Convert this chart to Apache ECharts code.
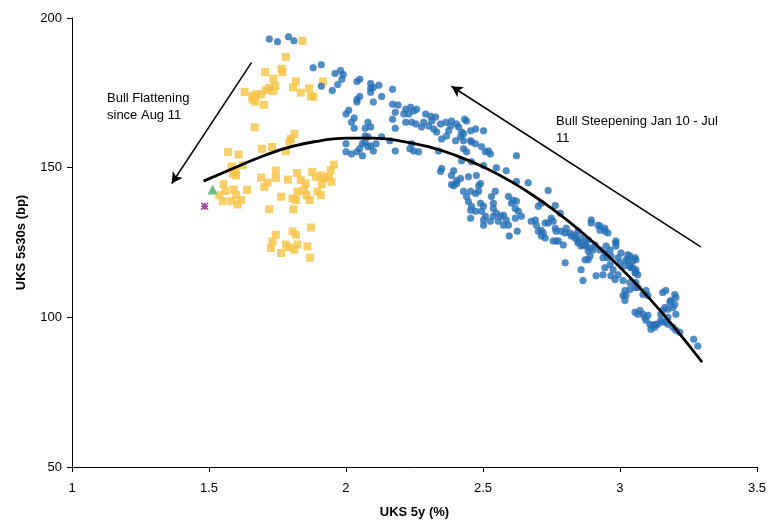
<!DOCTYPE html>
<html>
<head>
<meta charset="utf-8">
<script src="https://cdn.jsdelivr.net/npm/echarts@6/dist/echarts.min.js"></script>
<style>html,body{margin:0;padding:0;background:#fff}#c{width:769px;height:524px}</style>
</head>
<body>
<div id="c"></div>
<script>
// Bull steepening period Jan 10 - Jul 11 (x: UKS 5y %, y: 5s30s bp)
const steepening = [
[1.72,193.0],[1.75,192.1],[1.79,193.7],[1.81,192.4],[1.88,183.4],[1.91,184.4],[1.96,181.5],[1.98,182.5],[1.99,181.1],[1.985,179.5],
[1.97,177.8],[1.91,177.2],[1.95,175.8],[2.04,178.8],[2.05,179.5],[2.09,178.1],[2.12,177.5],[2.09,176.5],[2.09,175.2],[2.13,173.8],
[2.17,176.2],[2.05,173.8],[2.04,172.8],[2.04,171.9],[2.10,171.9],[2.17,171.2],[2.19,170.9],[2.01,169.2],[2.00,167.9],[2.03,166.6],
[2.02,165.2],[2.03,163.2],[2.08,165.2],[2.09,163.6],[2.07,163.2],[2.17,166.2],[2.18,168.5],[2.18,163.2],[2.10,176.8],
[2.218,169.5],[2.236,170.2],[2.247,168.9],[2.229,167.9],[2.211,167.9],[2.218,165.2],[2.24,165.2],[2.258,169.5],[2.291,167.9],[2.309,167.2],
[2.327,166.9],[2.284,165.2],[2.276,163.6],[2.302,163.9],[2.313,165.6],[2.32,162.9],[2.331,161.9],[2.345,164.6],[2.364,165.2],[2.382,163.9],
[2.375,162.3],[2.367,160.6],[2.349,159.6],[2.385,165.6],[2.411,163.6],[2.44,165.6],[2.422,161.9],[2.418,160.3],[2.473,162.9],[2.502,162.3],
[2.455,159.0],[2.473,158.0],[2.495,157.0],[2.509,155.3],[2.429,156.3],[2.44,155.3],[2.24,158.0],[2.247,155.6],[2.265,155.3],[2.338,155.6],
[2.52,155.6],[2.622,154.0],[2.433,166.2],[2.404,164.6],[2.429,161.3],[2.455,162.3],[2.40,159.0],[2.429,159.0],[2.458,158.6],[2.255,164.6],[2.527,154.6],
[2.00,158.0],[2.00,155.3],[2.02,154.6],[2.04,155.3],[2.06,154.0],[2.05,156.3],[2.08,157.0],[2.07,158.6],[2.06,158.0],[2.09,157.3],
[2.10,155.6],[2.11,158.0],[2.13,160.3],[2.08,160.3],[2.07,160.6],[2.16,159.0],[2.18,155.6],[2.233,156.3],
[2.422,152.3],[2.458,152.0],[2.502,150.7],[2.549,150.0],[2.585,149.0],[2.349,149.7],[2.345,148.7],[2.393,149.0],[2.385,147.4],[2.418,146.4],
[2.393,144.0],[2.447,147.0],[2.476,147.4],[2.484,144.0],[2.404,145.7],[2.385,144.4],[2.429,142.1],[2.44,140.4],[2.455,142.1],[2.473,141.4],
[2.484,142.1],[2.447,138.7],[2.458,137.1],[2.455,135.8],[2.473,135.4],[2.491,138.1],[2.502,137.1],[2.455,133.1],[2.502,132.5],[2.502,130.8],
[2.527,132.1],[2.538,133.8],[2.531,140.4],[2.545,142.1],[2.538,138.1],[2.538,136.4],[2.549,134.8],[2.564,133.8],[2.575,134.1],[2.585,132.5],
[2.575,130.8],[2.556,132.1],[2.593,130.8],[2.593,140.4],[2.611,139.1],[2.604,138.1],[2.622,138.8],[2.618,136.4],[2.629,135.4],[2.618,133.1],
[2.64,133.8],[2.622,145.4],[2.665,145.0],[2.596,127.2],[2.625,128.8],[2.495,135.4],[2.491,144.7],[2.509,133.8],[2.404,144.7],[2.738,142.4],
[2.764,137.4],[2.782,134.8],
[2.702,137.1],[2.713,138.1],[2.676,132.1],[2.691,132.5],[2.695,130.8],[2.702,128.8],[2.72,128.2],[2.713,127.2],[2.727,126.5],[2.738,131.5],
[2.756,132.1],[2.749,133.1],[2.764,129.8],[2.767,128.8],[2.775,125.5],[2.785,128.8],[2.80,128.2],[2.804,129.8],[2.793,124.2],[2.727,131.5],
[2.713,129.1],[2.818,128.2],[2.822,127.2],[2.836,126.5],[2.847,125.5],[2.858,123.8],[2.873,124.2],[2.884,122.2],[2.891,120.5],[2.873,119.2],
[2.884,119.2],[2.756,125.5],[2.767,125.5],[2.80,118.2],[2.858,115.9],[2.865,112.3],[2.913,113.9],[2.938,114.2],[2.836,127.5],[2.847,128.8],
[2.858,126.5],[2.873,125.5],[2.884,125.8],[2.847,124.8],[2.865,124.2],[2.876,123.8],[2.891,123.2],[2.902,122.5],[2.909,124.2],[2.895,131.5],
[2.92,130.8],[2.927,130.5],[2.945,128.8],[2.895,132.5],[2.927,129.1],[2.945,129.8],[2.956,128.2],[2.927,122.5],[2.949,123.8],[2.964,122.5],
[2.945,121.5],[2.967,120.5],[2.938,119.9],[2.985,124.8],[2.985,123.8],[2.985,125.5],[2.964,117.6],[2.975,115.9],[2.967,113.9],[2.982,112.6],
[2.993,114.2],[3.004,121.5],[3.022,119.2],[3.036,120.5],[3.047,118.9],[3.058,119.2],[3.018,117.2],[3.04,116.6],[3.055,114.9],[3.065,114.2],
[3.058,115.9],[3.029,120.9],[3.055,119.9],[2.993,119.9],[3.0,118.2],[3.029,118.9],[3.036,117.2],[3.047,116.6],[3.058,114.9],[2.956,119.9],
[2.945,116.6],[3.018,109.0],[3.022,107.3],[3.036,109.3],[3.055,110.0],[3.011,112.3],[3.036,111.6],[3.058,111.6],[3.065,110.0],[3.095,109.0],
[3.102,107.3],[3.011,107.3],[3.018,105.6],[3.084,107.6],[3.055,101.7],[3.073,102.3],[3.084,101.0],[3.091,100.0],[3.095,99.0],[3.109,97.7],
[3.113,96.0],[3.12,97.4],[3.131,97.7],[3.149,99.0],[3.167,98.4],[3.175,100.0],[3.065,101.0],[3.102,100.7],[3.127,96.7],[3.138,97.7],
[3.156,98.4],[3.175,97.7],[3.156,108.3],[3.167,109.0],[3.20,107.6],[3.204,106.6],[3.182,105.0],[3.164,103.3],[3.156,102.3],[3.149,101.0],
[3.175,102.7],[3.193,103.3],[3.204,101.0],[3.185,105.6],[3.20,104.3],[3.193,96.7],[3.204,95.7],[3.218,95.0],[3.269,92.7],[3.284,90.4]
];
// Bull flattening since Aug 11
const flattening = [
[1.841,192.4],[1.781,187.0],[1.765,183.0],[1.768,181.9],[1.705,181.9],[1.735,179.7],[1.817,178.8],[1.916,178.8],[1.807,176.8],[1.865,176.5],
[1.835,175.1],[1.872,173.9],[1.881,173.7],[1.630,175.3],[1.659,173.9],[1.672,174.5],[1.659,172.8],[1.669,172.0],[1.690,174.5],[1.708,175.9],
[1.720,176.7],[1.742,177.3],[1.735,175.6],[1.701,171.0],[1.667,163.5],[1.812,161.3],[1.799,159.6],[1.793,158.7],[1.693,156.3],[1.730,156.9],
[1.781,155.5],[1.570,155.2],[1.608,154.4],[1.583,150.4],[1.596,149.1],[1.599,147.4],[1.587,148.0],[1.623,150.8],[1.553,144.5],[1.560,142.2],
[1.538,140.8],[1.550,138.8],[1.590,142.7],[1.599,140.8],[1.581,138.8],[1.605,137.7],[1.617,139.2],[1.639,142.6],[1.690,146.7],[1.714,145.0],
[1.702,143.5],[1.744,149.0],[1.744,146.6],[1.821,148.2],[1.835,145.8],[1.853,144.7],[1.847,142.5],[1.823,142.0],[1.805,139.7],[1.817,139.2],
[1.763,140.3],[1.856,140.8],[1.868,139.2],[1.877,148.6],[1.890,146.9],[1.910,147.4],[1.920,146.4],[1.912,144.5],[1.896,142.0],[1.908,140.8],
[1.938,146.9],[1.947,145.3],[1.944,149.1],[1.956,151.0],[1.720,136.1],[1.808,136.1],[1.872,130.0],[1.805,128.7],[1.817,127.6],[1.744,127.6],
[1.732,125.4],[1.726,123.2],[1.763,121.5],[1.781,124.3],[1.793,123.4],[1.811,122.6],[1.823,124.3],[1.859,123.7],[1.869,119.9],[1.788,146.0]
];
const latest = [[1.513,142.7]];
const prior = [[1.484,137.1]];
// Quadratic trend line
const fitCurve = [
[1.48,145.5],[1.6,150.2],[1.7,154.0],[1.8,157.0],[1.9,158.9],[2.0,159.9],[2.1,159.9],[2.2,158.9],[2.3,157.0],[2.4,154.1],
[2.5,150.3],[2.6,145.5],[2.7,139.7],[2.8,133.0],[2.9,125.3],[3.0,116.7],[3.1,107.1],[3.2,96.5],[3.3,85.0]
];
const arrowFlat = [[1.655,185.1],[1.364,144.7]];
const arrowSteep = [[3.295,123.5],[2.385,177.2]];
const xTicks = {min:1, max:3.5, step:0.5};
const yTicks = {min:50, max:200, step:50};

const chart = echarts.init(document.getElementById('c'), null, {renderer:'canvas'});
const font = 'Liberation Sans, Arial, sans-serif';
chart.setOption({
  animation:false,
  backgroundColor:'#fff',
  grid:{left:72, right:10, top:18, bottom:53, containLabel:false},
  xAxis:{
    type:'value', min:xTicks.min, max:xTicks.max, interval:xTicks.step,
    name:'UKS 5y (%)', nameLocation:'middle', nameGap:39,
    nameTextStyle:{fontFamily:font, fontSize:13, fontWeight:'bold', color:'#000'},
    axisLine:{lineStyle:{color:'#000', width:1}},
    axisTick:{show:true, length:5, lineStyle:{color:'#000'}},
    axisLabel:{fontFamily:font, fontSize:13, color:'#000', margin:15},
    splitLine:{show:false}
  },
  yAxis:{
    type:'value', min:yTicks.min, max:yTicks.max, interval:yTicks.step,
    name:'UKS 5s30s (bp)', nameLocation:'middle', nameGap:44,
    nameTextStyle:{fontFamily:font, fontSize:13, fontWeight:'bold', color:'#000'},
    axisLine:{show:true, lineStyle:{color:'#000', width:1}},
    axisTick:{show:true, length:5, lineStyle:{color:'#000'}},
    axisLabel:{fontFamily:font, fontSize:13, color:'#000', margin:10},
    splitLine:{show:false}
  },
  series:[
    {type:'scatter', name:'Aug 11 -', data:flattening, symbol:'rect', symbolSize:8,
     itemStyle:{color:'#F5C242'}, z:2},
    {type:'scatter', name:'Jan 10 - Jul 11', data:steepening, symbol:'circle', symbolSize:7,
     itemStyle:{color:'#1A76B6', borderColor:'rgba(150,60,180,0.45)', borderWidth:0.5}, z:3},
    {type:'scatter', name:'prior', data:prior, symbol:'path://M0,0L10,10M10,0L0,10M5,0L5,10M0,5L10,5', symbolSize:7,
     itemStyle:{color:'none', borderColor:'#8E1B8E', borderWidth:1.6}, z:4},
    {type:'scatter', name:'latest', data:latest, symbol:'triangle', symbolSize:10,
     itemStyle:{color:'#4DAA6A'}, z:4},
    {type:'line', name:'fit', data:fitCurve, smooth:true, symbol:'none',
     lineStyle:{color:'#000', width:2.8}, z:5,
     markLine:{silent:true, symbol:['none','arrow'], symbolSize:[9,11],
       label:{show:false},
       lineStyle:{color:'#000', width:1.5, type:'solid'},
       data:[
         [{coord:arrowFlat[0]},{coord:arrowFlat[1]}],
         [{coord:arrowSteep[0]},{coord:arrowSteep[1]}]
       ]}}
  ],
  graphic:[
    {type:'text', left:107, top:90, style:{text:'Bull Flattening\nsince Aug 11', font:'13px '+font, fill:'#000', lineHeight:17}},
    {type:'text', left:556, top:113, style:{text:'Bull Steepening Jan 10 - Jul\n11', font:'13px '+font, fill:'#000', lineHeight:17}}
  ]
});
</script>
</body>
</html>
